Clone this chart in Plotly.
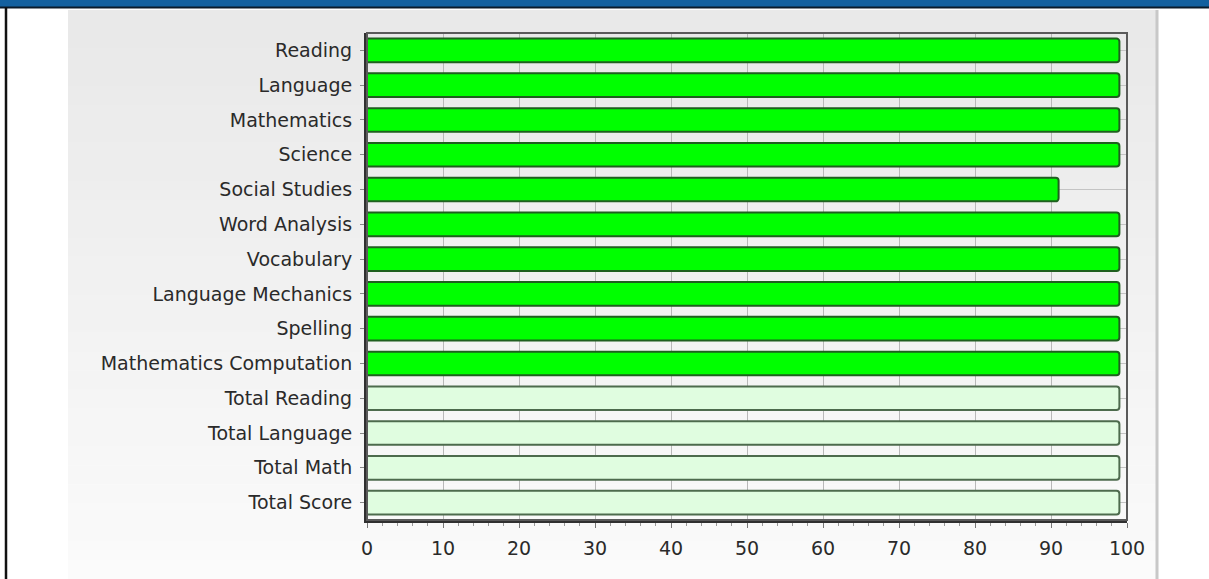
import plotly.graph_objects as go

categories = ["Reading", "Language", "Mathematics", "Science", "Social Studies",
              "Word Analysis", "Vocabulary", "Language Mechanics", "Spelling",
              "Mathematics Computation", "Total Reading", "Total Language",
              "Total Math", "Total Score"]
values = [99, 99, 99, 99, 91, 99, 99, 99, 99, 99, 99, 99, 99, 99]
is_total = [False] * 10 + [True] * 4
x_ticks = [0, 10, 20, 30, 40, 50, 60, 70, 80, 90, 100]

W, H = 1209, 579
L, R, T, B = 367, 1127, 33, 520

def px(x):
    return (x - L) / (R - L)

def py(y):
    return (B - y) / (B - T)

fill = ["#e0fde0" if t else "#00ff00" for t in is_total]
edge = ["#4d6b4d" if t else "#1f5f1f" for t in is_total]

fig = go.Figure(go.Bar(
    y=categories, x=values, orientation="h",
    marker=dict(color=fill, line=dict(color=edge, width=2), cornerradius=3),
    width=0.68, hoverinfo="x+y",
))

shapes = []
# panel gradient background
n = 30
y0, y1 = 10, 579
for i in range(n):
    a = y0 + (y1 - y0) * i / n
    b = y0 + (y1 - y0) * (i + 1) / n + 0.5
    t = i / (n - 1)
    c = int(233 + (251 - 233) * t)
    shapes.append(dict(type="rect", xref="paper", yref="paper", layer="below",
                       x0=px(68), x1=px(1156), y0=py(b), y1=py(a),
                       line=dict(width=0), fillcolor=f"rgb({c},{c},{c})"))
# panel right edge shade
shapes.append(dict(type="line", xref="paper", yref="paper", layer="below",
                   x0=px(1157), x1=px(1157), y0=py(10), y1=py(579),
                   line=dict(color="#c8c8c8", width=3)))
# header band
shapes.append(dict(type="rect", xref="paper", yref="paper", layer="above",
                   x0=px(-5), x1=px(1215), y0=py(7), y1=py(-5),
                   line=dict(width=0), fillcolor="#13609f"))
shapes.append(dict(type="line", xref="paper", yref="paper", layer="above",
                   x0=px(-5), x1=px(1215), y0=py(7.5), y1=py(7.5),
                   line=dict(color="#0a1a2a", width=2)))
# left border
shapes.append(dict(type="line", xref="paper", yref="paper", layer="above",
                   x0=px(6), x1=px(6), y0=py(7), y1=py(585),
                   line=dict(color="#111111", width=2.5)))
# plot frame
shapes.append(dict(type="rect", xref="paper", yref="paper", layer="above",
                   x0=0, x1=1, y0=0, y1=1,
                   line=dict(color="#5a5a5a", width=2)))

fig.update_layout(
    width=W, height=H,
    margin=dict(l=L, r=W - R, t=T, b=H - B, pad=0),
    paper_bgcolor="white",
    plot_bgcolor="rgba(0,0,0,0)",
    showlegend=False,
    shapes=shapes,
    font=dict(family="DejaVu Sans", size=19, color="#2a2a2a"),
    bargap=0.3,
)
fig.update_xaxes(
    range=[0, 100], tickvals=x_ticks, ticktext=[str(v) for v in x_ticks],
    showgrid=True, gridcolor="#b8b8b8", gridwidth=1,
    showline=True, linecolor="#303030", linewidth=3,
    ticks="outside", ticklen=5, tickcolor="#777777", tickwidth=1,
    minor=dict(dtick=2, ticks="outside", ticklen=3, tickcolor="#999999", showgrid=False),
    ticklabelstandoff=4, zeroline=False, fixedrange=True,
    tickfont=dict(size=19, color="#2a2a2a"),
)
fig.update_yaxes(
    categoryorder="array", categoryarray=categories, autorange="reversed",
    showgrid=True, gridcolor="#c4c4c4", gridwidth=1,
    showline=True, linecolor="#303030", linewidth=3,
    ticks="outside", ticklen=4, tickcolor="#888888",
    ticklabelstandoff=4, fixedrange=True,
    tickfont=dict(size=19, color="#2a2a2a"),
)

fig.write_html(
    "out.html",
    config={"displayModeBar": False},
    post_script="document.body.style.margin='0';document.body.style.overflow='hidden';",
)
